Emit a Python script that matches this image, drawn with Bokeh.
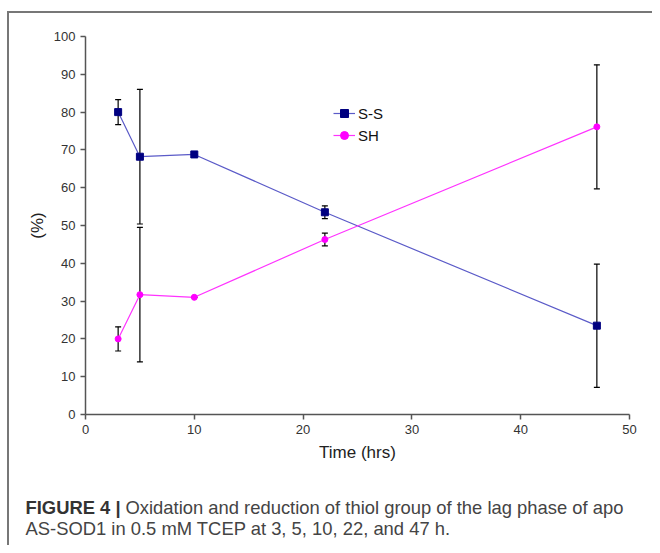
from bokeh.plotting import figure
from bokeh.layouts import column
from bokeh.models import (Range1d, FixedTicker, ColumnDataSource, Whisker, TeeHead,
                          Legend, LegendItem)
from bokeh.core.properties import value
from bokeh.embed import file_html
from bokeh.resources import INLINE

# ---- data ----
time_hrs = [3, 5, 10, 22, 47]
ss_pct = [80.0, 68.2, 68.8, 53.5, 23.5]
ss_err = [3.3, 17.8, 0.0, 1.7, 16.3]
sh_pct = [20.0, 31.7, 31.0, 46.3, 76.1]
sh_err = [3.2, 17.8, 0.0, 1.7, 16.4]
x_ticks = [0, 10, 20, 30, 40, 50]
y_ticks = [0, 10, 20, 30, 40, 50, 60, 70, 80, 90, 100]
series_names = ["S-S", "SH"]
caption_bold = "FIGURE 4 |"
caption_line1 = "Oxidation and reduction of thiol group of the lag phase of apo"
caption_line2 = "AS-SOD1 in 0.5 mM TCEP at 3, 5, 10, 22, and 47 h."

FONT = "Liberation Sans"

ss_src = ColumnDataSource(dict(
    x=time_hrs, y=ss_pct,
    lo=[v - e for v, e in zip(ss_pct, ss_err)],
    hi=[v + e for v, e in zip(ss_pct, ss_err)]))
sh_src = ColumnDataSource(dict(
    x=time_hrs, y=sh_pct,
    lo=[v - e for v, e in zip(sh_pct, sh_err)],
    hi=[v + e for v, e in zip(sh_pct, sh_err)]))

p = figure(width=643, height=467, output_backend="svg", toolbar_location=None,
           x_range=Range1d(0, 50), y_range=Range1d(0, 100),
           min_border_left=76, min_border_right=23, min_border_top=23,
           min_border_bottom=66)
p.background_fill_color = "white"
p.border_fill_color = "white"
p.outline_line_color = None
p.xgrid.visible = False
p.ygrid.visible = False

for ax, ticks in ((p.xaxis[0], x_ticks), (p.yaxis[0], y_ticks)):
    ax.ticker = FixedTicker(ticks=ticks)
    ax.minor_tick_line_color = None
    ax.major_tick_in = 0
    ax.major_tick_out = 5
    ax.axis_line_color = "#555555"
    ax.axis_line_width = 1.5
    ax.major_tick_line_color = "#555555"
    ax.major_tick_line_width = 1.5
    ax.major_label_text_font = FONT
    ax.major_label_text_font_size = "13px"
    ax.major_label_text_color = "#333333"
    ax.major_label_standoff = 5
    ax.axis_label_text_font = FONT
    ax.axis_label_text_font_size = "17px"
    ax.axis_label_text_font_style = "normal"
    ax.axis_label_text_color = "#222222"

p.xaxis[0].axis_label = "Time (hrs)"
p.xaxis[0].axis_label_standoff = 6
p.yaxis[0].axis_label = "(%)"
p.yaxis[0].axis_label_standoff = 4

# error bars
for src in (ss_src, sh_src):
    w = Whisker(source=src, base="x", upper="hi", lower="lo",
                line_color="black", line_width=1.2,
                upper_head=TeeHead(size=6, line_color="black", line_width=1.2),
                lower_head=TeeHead(size=6, line_color="black", line_width=1.2))
    p.add_layout(w)

ss_line = p.line("x", "y", source=ss_src, line_color="#5b5bc8", line_width=1.2)
ss_pts = p.scatter("x", "y", source=ss_src, marker="square", size=7,
                   fill_color="#000080", line_color="#000080")
sh_line = p.line("x", "y", source=sh_src, line_color="#ff33ff", line_width=1.2)
sh_pts = p.scatter("x", "y", source=sh_src, marker="circle", size=6,
                   fill_color="#ff00ff", line_color="#ff00ff")

legend = Legend(items=[LegendItem(label=series_names[0], renderers=[ss_line, ss_pts]),
                       LegendItem(label=series_names[1], renderers=[sh_line, sh_pts])],
                location=(248, 269), orientation="vertical",
                padding=0, margin=0, spacing=2, glyph_width=22, glyph_height=20,
                label_standoff=3, border_line_color=None, background_fill_alpha=0,
                label_text_font=FONT, label_text_font_size="15px",
                label_text_color="#111111")
p.add_layout(legend, "center")

# caption panel
cap = figure(width=643, height=65, output_backend="svg", toolbar_location=None,
             x_range=Range1d(0, 643), y_range=Range1d(0, 65),
             x_axis_location=None, y_axis_location=None, min_border=0)
cap.frame_width = 643
cap.frame_height = 65
cap.outline_line_color = None
cap.background_fill_color = "white"
cap.border_fill_color = "white"
cap.grid.visible = False

for fig in (p, cap):
    if hasattr(fig, "frame_align"):
        fig.frame_align = False

cap_src = ColumnDataSource(dict(
    x=[16, 116, 16],
    y=[38, 38, 17],
    t=[caption_bold, caption_line1, caption_line2],
    style=["bold", "normal", "normal"],
    color=["#333333", "#444444", "#444444"]))
cap.text("x", "y", text="t", source=cap_src, text_font=value(FONT),
         text_font_size="18.4px", text_font_style="style", text_color="color",
         text_baseline="alphabetic", text_align="left")

layout = column(p, cap, spacing=0, margin=(11, 0, 0, 7),
                styles={"border-top": "2px solid #777777",
                        "border-left": "2px solid #777777"})

open("out.html", "w").write(file_html(layout, INLINE))
